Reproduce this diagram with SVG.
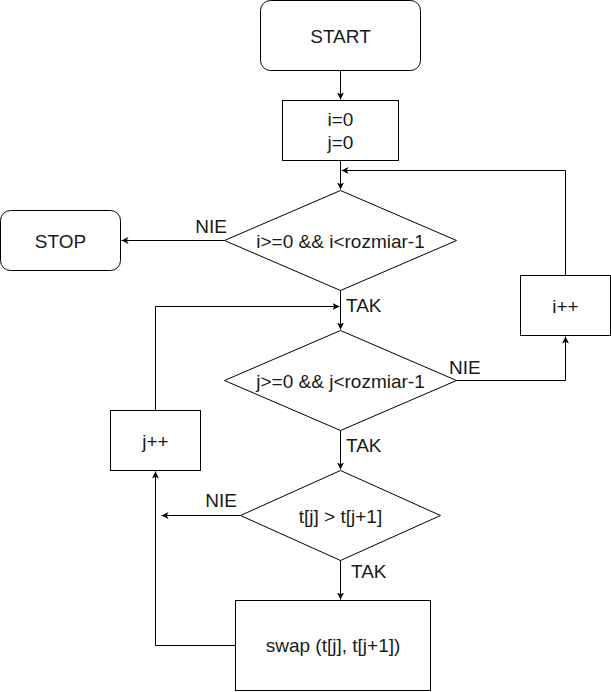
<svg xmlns="http://www.w3.org/2000/svg" width="611" height="692" viewBox="0 0 611 692">
<style>
.s{fill:#fff;stroke:#000;stroke-width:1}
.t{font-family:"Liberation Sans",Arial,sans-serif;font-size:19px;fill:#1a1a1a;text-anchor:middle;dominant-baseline:central}
.l{font-family:"Liberation Sans",Arial,sans-serif;font-size:19px;fill:#1a1a1a;dominant-baseline:central}
.e{fill:none;stroke:#000;stroke-width:1;marker-end:url(#a)}
</style>
<defs>
<marker id="a" markerWidth="8" markerHeight="8" refX="7" refY="4" orient="auto" markerUnits="userSpaceOnUse">
<path d="M0,0.5 L7,4 L0,7.5 L1.8,4 Z" fill="#000"/>
</marker>
</defs>
<rect width="611" height="692" fill="#fff"/>
<g id="connectors">
<path class="e" d="M340.5,70.5 V99.5"/>
<path class="e" d="M340.5,160.5 V189.5"/>
<path class="e" d="M224.5,240.5 H121.5"/>
<path class="e" d="M340.5,290.5 V329.5"/>
<path class="e" d="M456.5,380.5 H565.5 V336.5"/>
<path class="e" d="M565.5,275.5 V170.5 H341.5"/>
<path class="e" d="M340.5,430.5 V469.5"/>
<path class="e" d="M240.5,515.5 H161.5"/>
<path class="e" d="M340.5,560.5 V599.5"/>
<path class="e" d="M235.5,645.5 H155.5 V471.5"/>
<path class="e" d="M155.5,410.5 V306.5 H339.5"/>
</g>
<g id="start"><rect class="s" x="260.5" y="0.5" width="160" height="70" rx="10"/><text class="t" x="340.5" y="36">START</text></g>
<g id="init"><rect class="s" x="282.5" y="100.5" width="116" height="60"/><text class="t" x="340.5" y="119">i=0</text><text class="t" x="340.5" y="142">j=0</text></g>
<g id="cond-i"><polygon class="s" points="340.5,190.5 456.5,240.5 340.5,290.5 224.5,240.5"/><text class="t" x="340.5" y="241">i&gt;=0 &amp;&amp; i&lt;rozmiar-1</text></g>
<g id="stop"><rect class="s" x="0.5" y="210.5" width="120" height="60" rx="10"/><text class="t" x="60.5" y="241">STOP</text></g>
<g id="inc-i"><rect class="s" x="520.5" y="275.5" width="90" height="60"/><text class="t" x="565.5" y="306">i++</text></g>
<g id="cond-j"><polygon class="s" points="340.5,330.5 456.5,380.5 340.5,430.5 224.5,380.5"/><text class="t" x="340.5" y="381">j&gt;=0 &amp;&amp; j&lt;rozmiar-1</text></g>
<g id="inc-j"><rect class="s" x="110.5" y="410.5" width="90" height="60"/><text class="t" x="155.5" y="441">j++</text></g>
<g id="cond-t"><polygon class="s" points="340.5,470.5 440.5,515.5 340.5,560.5 240.5,515.5"/><text class="t" x="340.5" y="516">t[j] &gt; t[j+1]</text></g>
<g id="swap"><rect class="s" x="235.5" y="600.5" width="195" height="90"/><text class="t" x="333" y="645">swap (t[j], t[j+1])</text></g>
<g id="labels">
<text class="l" x="227" y="226" text-anchor="end">NIE</text>
<text class="l" x="346" y="305">TAK</text>
<text class="l" x="449" y="367">NIE</text>
<text class="l" x="346" y="445">TAK</text>
<text class="l" x="237" y="500" text-anchor="end">NIE</text>
<text class="l" x="351" y="571">TAK</text>
</g>
</svg>
